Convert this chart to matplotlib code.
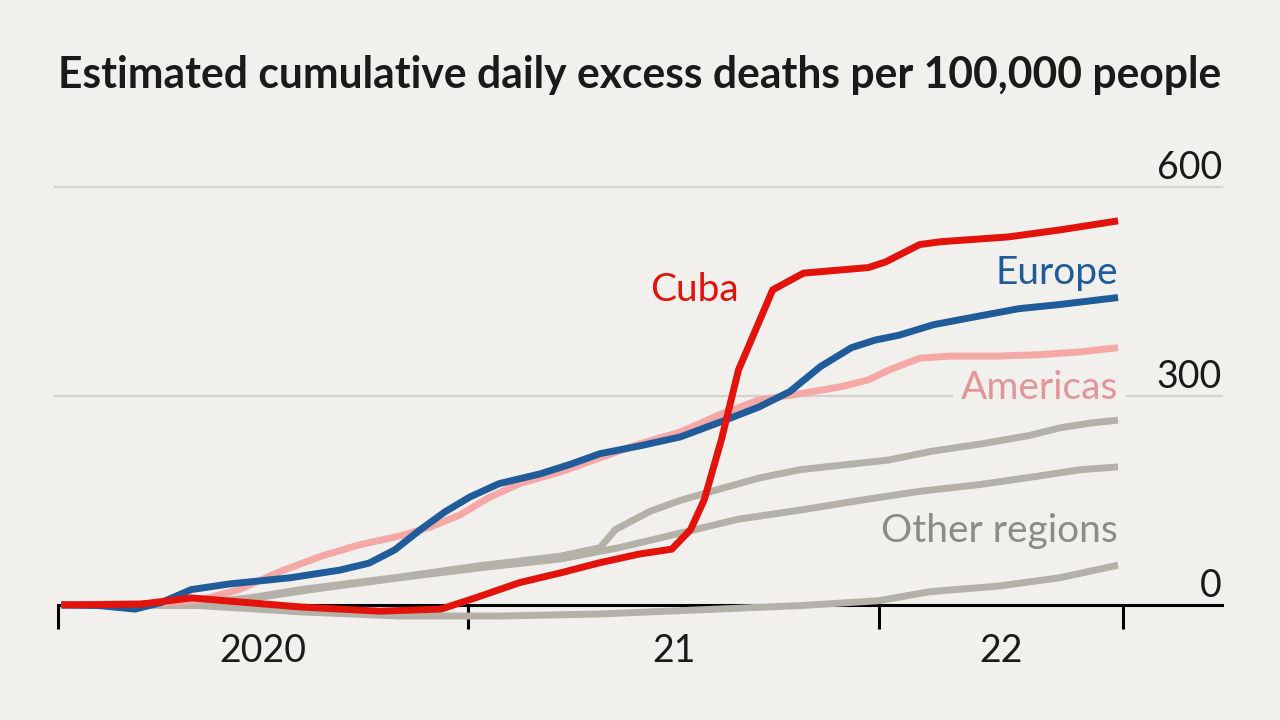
import numpy as np
import matplotlib
matplotlib.use('Agg')
import matplotlib.pyplot as plt

# x values are months since January 2020, y values are excess deaths per 100,000
cuba_x = [0.1, 2.4, 3.9, 7.1, 9.4, 11.2, 12.2, 13.5, 14.7, 15.8, 17.0, 17.95, 18.5, 18.9,
          19.4, 19.9, 20.9, 21.8, 23.7, 24.2, 25.2, 25.8, 27.8, 29.3, 31.0]
cuba_y = [0, 1, 10, -3, -9, -6, 10, 32, 46, 60, 73, 80, 108, 151,
          237, 337, 452, 476, 484, 492, 517, 521, 528, 538, 551]

europe_x = [0.1, 1.2, 2.25, 3.0, 3.9, 5.0, 6.8, 8.25, 9.1, 9.85, 10.6, 11.3, 12.05, 12.9,
            14.1, 15.0, 15.85, 17.0, 18.2, 19.4, 20.5, 21.4, 22.3, 23.2, 23.9, 24.6,
            25.6, 27.0, 28.1, 29.3, 31.0]
europe_y = [0, -1, -6, 3, 22, 30, 39, 50, 60, 79, 108, 133, 155, 174,
            188, 202, 217, 228, 241, 263, 284, 306, 342, 369, 380, 387,
            402, 415, 425, 431, 441]

americas_x = [0.1, 2.7, 4.15, 5.3, 6.5, 7.7, 8.8, 10.0, 10.9, 11.75, 12.6, 13.5, 14.7, 15.85,
              17.0, 18.2, 19.4, 20.5, 21.7, 22.9, 23.7, 24.3, 25.2, 26.1, 27.5, 28.7, 29.9, 31.0]
americas_y = [0, 1, 7, 22, 48, 70, 86, 99, 112, 129, 154, 174, 191, 211,
              231, 248, 274, 294, 303, 313, 323, 337, 354, 357, 357, 359, 363, 369]

# other regions, three lines
other1_x = [0.1, 4.15, 5.6, 7.1, 10.0, 12.3, 14.7, 15.85, 16.3, 17.3, 18.2, 19.4, 20.5,
            21.7, 23.2, 24.3, 25.5, 27.0, 28.4, 29.3, 30.2, 31.0]
other1_y = [0, 3, 10, 22, 40, 56, 70, 82, 108, 134, 150, 167, 182,
            194, 202, 208, 220, 231, 243, 254, 261, 265]

other2_x = [0.1, 4.15, 5.9, 7.7, 10.0, 12.3, 14.7, 16.4, 18.2, 19.9, 21.7, 23.45, 25.2,
            27.0, 28.7, 29.9, 31.0]
other2_y = [0, 1, 11, 24, 39, 53, 66, 82, 103, 123, 136, 150, 163,
            173, 185, 194, 198]

other3_x = [0.1, 4.15, 7.1, 10.0, 12.9, 15.85, 18.8, 21.7, 24.0, 25.5, 27.5, 29.3, 31.0]
other3_y = [0, -1, -10, -16, -16, -13, -7, -1, 6, 19, 27, 39, 57]

year_ticks = [0, 12, 24, 31.15]
year_labels = ['2020', '21', '22']
grid_vals = [300, 600]
y_labels = ['0', '300', '600']

bg = '#f1f0ec'
red = '#e3120b'
blue = '#1f5c99'
pink = '#f5a8a6'
grey = '#b4b1a8'

plt.rcParams['font.family'] = ['Lato', 'DejaVu Sans']

fig = plt.figure(figsize=(12.8, 7.2), dpi=100, facecolor=bg)
ax = fig.add_axes([58 / 1280, 90 / 720, 1164 / 1280, 490 / 720])
ax.set_facecolor(bg)
ax.set_xlim(0, 34.04)
ax.set_ylim(-36, 667)

for g in grid_vals:
    ax.axhline(g, xmin=-0.003, color='#d4d3cf', lw=1.6, zorder=1, clip_on=False)

lw = 5.0
for xs, ys in [(other3_x, other3_y), (other2_x, other2_y), (other1_x, other1_y)]:
    ax.plot(xs, ys, color=grey, lw=lw, solid_capstyle='butt', zorder=3)
ax.plot(americas_x, americas_y, color=pink, lw=lw, solid_capstyle='butt', zorder=4)
ax.plot(europe_x, europe_y, color=blue, lw=lw, solid_capstyle='butt', zorder=5)
ax.plot(cuba_x, cuba_y, color=red, lw=lw, solid_capstyle='butt', zorder=6)

# series labels
lab_size = 28
ax.text(19.9, 452, 'Cuba', color=red, fontsize=lab_size, ha='right', va='center', zorder=7)
ax.text(31.0, 476, 'Europe', color=blue, fontsize=lab_size, ha='right', va='center', zorder=7)
ax.text(31.0, 311, 'Americas', color='#e3959a', fontsize=lab_size, ha='right', va='center', zorder=2,
        bbox=dict(facecolor=bg, edgecolor='none', pad=6))
ax.text(31.0, 106, 'Other regions', color='#8d8b85', fontsize=lab_size, ha='right', va='center', zorder=7)

# y value labels on the right
for v, lab in zip([0, 300, 600], y_labels):
    ax.text(34.04, v + 11, lab, fontsize=27, ha='right', va='baseline', color='#1a1a1a')

for s in ['top', 'right', 'left']:
    ax.spines[s].set_visible(False)
ax.spines['bottom'].set_position(('data', 0))
ax.spines['bottom'].set_linewidth(2.2)
ax.spines['bottom'].set_color('black')
ax.spines['bottom'].set_zorder(2)
ax.set_yticks([])

ax.set_xticks(year_ticks)
ax.tick_params(axis='x', which='major', length=17, width=2.2, color='black', labelbottom=False)
ax.set_xticks([6, 18, (24 + year_ticks[-1]) / 2], minor=True)
ax.set_xticklabels(year_labels, minor=True)
ax.tick_params(axis='x', which='minor', length=0, pad=20, labelsize=27, labelcolor='#1a1a1a')

title = fig.text(58 / 1280, 1 - 88 / 720, 'Estimated cumulative daily excess deaths per 100,000 people',
                 fontsize=31, fontweight='bold', color='#1a1a1a', ha='left', va='baseline')
fig.canvas.draw()
w = title.get_window_extent().width
title.set_fontsize(31 * 1164 / w)

fig.savefig('out.png', dpi=100, facecolor=bg)
